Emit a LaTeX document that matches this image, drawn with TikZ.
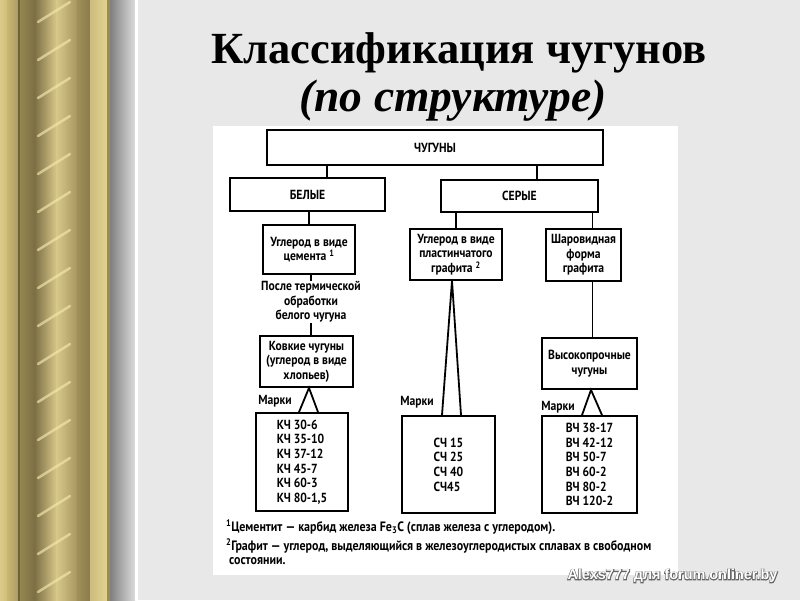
\documentclass[tikz,border=0pt]{standalone}
\usepackage{fontspec}
\setmainfont{Liberation Serif}
\newfontfamily\dg[FakeStretch=0.88]{PT Sans}
\newfontfamily\wmfont{Liberation Sans}
\newfontfamily\wmhalo[FakeBold=10]{Liberation Sans}
\usetikzlibrary{calc}
\definecolor{bgc}{HTML}{E8E8E8}
\definecolor{hilite}{HTML}{F4E8AC}
\newcommand{\wmtxt}{Alexs777 для forum.onliner.by}
\begin{document}
\begin{tikzpicture}[x=1pt,y=-1pt,
  box/.style={draw=black, line width=1.8pt, fill=white, inner sep=0pt, align=center,
              font=\dg\bfseries\fontsize{13.2}{14.6}\selectfont},
  lbl/.style={inner sep=0pt, align=center, font=\dg\bfseries\fontsize{13.2}{14.6}\selectfont},
  note/.style={inner sep=0pt, anchor=west, font=\dg\bfseries\fontsize{13.6}{14}\selectfont},
  conn/.style={line width=1.8pt}
]
\useasboundingbox (0,0) rectangle (800,600);
\fill[bgc] (0,0) rectangle (800,600);
% golden column
\foreach \xa/\xb/\ca/\cb in {0/7/DCCB88/CFBE7C, 7/18/C8B672/AE9C64, 18/20/6E6238/6E6238,
  20/35/958650/7C6E44, 35/56/7F7147/D4C586, 56/77/D8C98A/A89760, 77/90/A09058/8A7C4C,
  90/107/CDBD7C/E2D292, 107/110/9A8B55/9A8B55}{
  \definecolor{tmpa}{HTML}{\ca}\definecolor{tmpb}{HTML}{\cb}
  \shade[left color=tmpa, right color=tmpb] (\xa,0) rectangle (\xb,600);
}
\foreach \yy in {-30,8,...,640}{
  \draw[line width=2.5pt, hilite, opacity=0.65, line cap=round] (38,\yy+14) -- (70,\yy-6);
}
\shade[left color=black!50, right color=black!14] (110,0) rectangle (135,600);
\fill[white] (135,0) rectangle (137.5,600);
% white panel
\fill[white] (213,126) rectangle (678,575);
% title
\node[anchor=base, inner sep=0pt, font=\bfseries\fontsize{44.5}{44.5}\selectfont] (t1) at (459,63) {Классификация чугунов};
\node[anchor=base, inner sep=0pt, font=\bfseries\itshape\fontsize{45.5}{45.5}\selectfont] (t2) at (453,111) {(по структуре)};
% boxes
\node[box, minimum width=336pt, minimum height=35pt] (chug) at (435,147.5) {ЧУГУНЫ};
\node[box, minimum width=155pt, minimum height=33pt] (bel) at (307.5,194.5) {БЕЛЫЕ};
\node[box, minimum width=157pt, minimum height=32pt] (ser) at (519.5,196) {СЕРЫЕ};
\node[box, minimum width=92pt, minimum height=49pt] (cem) at (309,249.5) {Углерод в виде\\цемента \textsuperscript{1}};
\node[box, minimum width=92pt, minimum height=51pt] (pla) at (456,254.5) {Углерод в виде\\пластинчатого\\графита \textsuperscript{2}};
\node[box, minimum width=75pt, minimum height=52pt] (sha) at (583.5,255) {Шаровидная\\форма\\графита};
\node[lbl] (pos) at (311,302) {После термической\\обработки\\белого чугуна};
\node[box, minimum width=93pt, minimum height=51pt] (kov) at (306.5,361.5) {Ковкие чугуны\\(углерод в виде\\хлопьев)};
\node[box, minimum width=95pt, minimum height=51pt] (vys) at (589.5,363.5) {Высокопрочные\\чугуны};
\node[box, align=left, minimum width=92pt, minimum height=98pt] (kch) at (302,462)
  {КЧ 30-6\\КЧ 35-10\\КЧ 37-12\\КЧ 45-7\\КЧ 60-3\\КЧ 80-1,5};
\node[box, align=left, minimum width=93pt, minimum height=97pt] (sch) at (448.5,464.5)
  {СЧ 15\\СЧ 25\\СЧ 40\\СЧ45};
\node[box, align=left, minimum width=95pt, minimum height=97pt] (vch) at (589.5,464.5)
  {ВЧ 38-17\\ВЧ 42-12\\ВЧ 50-7\\ВЧ 60-2\\ВЧ 80-2\\ВЧ 120-2};
% labels
\node[lbl] (m1) at (275,401) {Марки};
\node[lbl] (m2) at (417,402) {Марки};
\node[lbl] (m3) at (558,407) {Марки};
% connectors
\draw[conn] ($(bel.north)+(19.5,0)$) coordinate (c1) -- (c1 |- chug.south);
\draw[conn] ($(ser.north)+(17.5,0)$) coordinate (c2) -- (c2 |- chug.south);
\draw[conn] (cem.north) -- (cem.north |- bel.south);
\draw[conn] (pla.north) -- (pla.north |- ser.south);
\draw[conn] ($(sha.north)+(9,0)$) coordinate (c5) -- (c5 |- ser.south);
\draw[conn] (c5 |- sha.south) -- (c5 |- vys.north);
\draw[conn] (pos.north |- cem.south) -- (pos.north);
\draw[conn] (pos.south) -- (pos.south |- kov.north);
\draw[conn] ($(kch.north)+(-3,0)$) -- ($(kov.south)+(2.5,0)$) -- ($(kch.north)+(16,0)$);
\draw[conn] ($(sch.north)+(-6.5,0)$) -- ($(pla.south)+(-4,0)$) -- ($(sch.north)+(12.5,0)$);
\draw[conn] ($(vch.north)+(-7.5,0)$) -- ($(vys.south)+(1.5,0)$) -- ($(vch.north)+(12.5,0)$);
% footnotes
\node[note] (f1) at (226,527) {\textsuperscript{1}Цементит — карбид железа Fe\textsubscript{3}C (сплав железа с углеродом).};
\node[note] (f2) at (226,546) {\textsuperscript{2}Графит — углерод, выделяющийся в железоуглеродистых сплавах в свободном};
\node[note] (f3) at (229,561) {состоянии.};
% watermark: dark halo (stroked text) under white text, in one node
\node[inner sep=0pt, font=\fontsize{14.4}{14.4}\selectfont] (wm) at (672.5,576)
  {\rlap{\color{black!60}\wmhalo\bfseries\wmtxt}{\color{white}\wmfont\bfseries\wmtxt}};
\end{tikzpicture}
\end{document}
